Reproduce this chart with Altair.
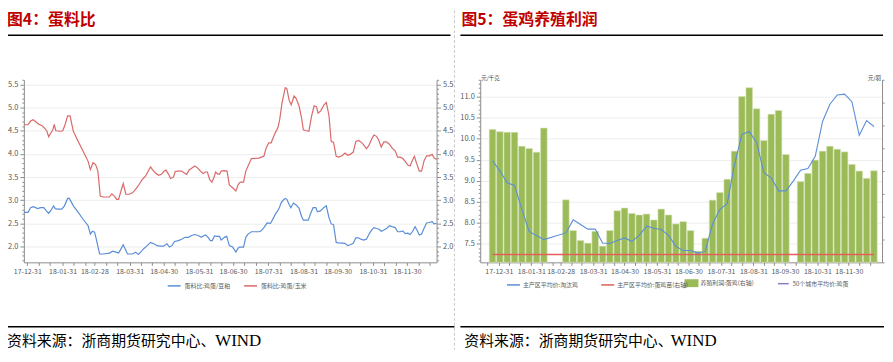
import altair as alt
import pandas as pd

FONT = "Noto Sans CJK SC"
TITLE_L = "图4：蛋料比"
TITLE_R = "图5：蛋鸡养殖利润"
SOURCE_CN = "资料来源：浙商期货研究中心、"
SOURCE_EN = "WIND"
LEG_SOY = "蛋料比:鸡蛋/豆粕"
LEG_CORN = "蛋料比:鸡蛋/玉米"
LEG_HEN = "主产区平均价:淘汰鸡"
LEG_CHICK = "主产区平均价:蛋鸡苗(右轴)"
LEG_PROFIT = "养殖利润:蛋鸡(右轴)"
LEG_EGG50 = "50个城市平均价:鸡蛋"
UNIT_L = "元/千克"
UNIT_R = "元/羽"

# ---------------- left panel: (days after 2017-12-31, ratio) ----------------
soy_points = [
    (-3, 2.74), (0.6, 2.74), (2.9, 2.84), (5.2, 2.86), (7.2, 2.84), (9.2, 2.82), (11.6, 2.84), (14.5, 2.84),
    (16.8, 2.77), (18.8, 2.72), (21.1, 2.79), (23.1, 2.88), (24.6, 2.82), (26.6, 2.81), (30.3, 2.81), (32.7, 2.88),
    (35.5, 3.04), (37, 3.04), (40.5, 2.88), (44.8, 2.74), (49.1, 2.59), (53.5, 2.45), (55.5, 2.27), (57.2, 2.33),
    (59.2, 2.31), (60.7, 2.16), (63.6, 1.84), (66.5, 1.84), (72.3, 1.86), (75.1, 1.90), (78, 1.88), (80.3, 1.86),
    (82.4, 1.95), (84.4, 2.04), (86.1, 1.95), (88.2, 1.84), (92.5, 1.84), (95.4, 1.88), (97.7, 1.83), (99.7, 1.88),
    (102.6, 1.96), (105.5, 2.02), (108.4, 2.09), (111.3, 2.06), (114.2, 2.02), (117.1, 2.01), (119.9, 2.01),
    (122.8, 2.06), (125.1, 1.99), (127.2, 2.02), (129.5, 2.11), (132.9, 2.13), (135.8, 2.16), (138.7, 2.20),
    (141.6, 2.20), (144.5, 2.24), (147.4, 2.26), (150.3, 2.24), (153.2, 2.20), (155.5, 2.24), (156.9, 2.25),
    (159, 2.20), (161, 2.13), (162.7, 2.13), (164.7, 2.23), (166.8, 2.22), (169.1, 2.22), (170.5, 2.14),
    (173.4, 2.20), (175.4, 2.22), (177.7, 2.02), (180.6, 1.99), (183.5, 1.88), (185, 1.95), (186.4, 1.99),
    (190.2, 1.99), (192.2, 2.20), (194.2, 2.27), (197.1, 2.32), (203.8, 2.32), (205.8, 2.34), (208.1, 2.41),
    (211, 2.51), (213.9, 2.50), (216.8, 2.63), (218.2, 2.70), (220.2, 2.77), (221.7, 2.84), (223.4, 2.95),
    (225.4, 3.01), (226.9, 3.04), (228.3, 3.02), (230.3, 2.91), (231.8, 2.84), (234.1, 2.94), (236.4, 2.90),
    (239, 2.83), (241.3, 2.65), (242.8, 2.57), (247.1, 2.57), (249.1, 2.71), (251.4, 2.84), (253.8, 2.84),
    (255.2, 2.75), (257.8, 2.77), (260.7, 2.84), (263, 2.88), (265.3, 2.63), (267.3, 2.49), (269.4, 2.47),
    (271.7, 2.09), (273.7, 2.08), (279.5, 2.07), (281.8, 2.02), (284.1, 2.04), (286.7, 2.07), (289, 2.19),
    (291.3, 2.19), (293.4, 2.16), (295.7, 2.14), (298.3, 2.16), (300.6, 2.27), (302.9, 2.36), (304.9, 2.41),
    (307.2, 2.39), (309.2, 2.38), (311.3, 2.33), (313.6, 2.36), (316.5, 2.40), (318.5, 2.45), (320.8, 2.43),
    (323.7, 2.41), (325.7, 2.32), (328, 2.32), (330.3, 2.34), (332.4, 2.28), (334.7, 2.29), (336.7, 2.26),
    (338.7, 2.32), (341.1, 2.43), (343.1, 2.34), (344.8, 2.25), (346.8, 2.27), (349.1, 2.40), (351.2, 2.51),
    (353.5, 2.52), (356.1, 2.54), (357.8, 2.49), (360, 2.50),
]
corn_points = [
    (-3, 4.63), (0.6, 4.63), (2.9, 4.71), (5.2, 4.74), (7.2, 4.70), (10.1, 4.64), (13, 4.61), (15, 4.56),
    (17.3, 4.49), (18.8, 4.37), (20.2, 4.43), (22.5, 4.52), (23.7, 4.64), (25.1, 4.50), (28.9, 4.49), (31.2, 4.50),
    (33.2, 4.63), (35.5, 4.82), (37.6, 4.82), (40.5, 4.49), (44.8, 4.27), (49.1, 4.06), (53.5, 3.84), (55.5, 3.66),
    (57.8, 3.81), (60.1, 3.77), (62.1, 3.63), (64.2, 3.09), (66.5, 3.07), (72.3, 3.07), (74.3, 3.14), (76.6, 3.09),
    (78.6, 3.02), (80.3, 3.02), (82.4, 3.20), (84.4, 3.36), (86.7, 3.13), (89.6, 3.13), (92.5, 3.16), (95.4, 3.24),
    (98.3, 3.34), (101.2, 3.45), (104, 3.52), (106.4, 3.63), (108.4, 3.72), (110.4, 3.65), (112.7, 3.59),
    (115.6, 3.54), (117.9, 3.56), (120.5, 3.63), (122, 3.65), (124.3, 3.56), (126, 3.47), (128.6, 3.50),
    (130.1, 3.62), (132.4, 3.63), (135.8, 3.63), (138.2, 3.59), (140.2, 3.56), (142.2, 3.65), (144.5, 3.69),
    (147.4, 3.74), (149.7, 3.70), (152.3, 3.63), (154.6, 3.58), (156.6, 3.61), (158.4, 3.61), (160.4, 3.45),
    (162.4, 3.39), (164.2, 3.49), (165.6, 3.61), (167.6, 3.57), (169.1, 3.56), (170.5, 3.63), (173.4, 3.64),
    (175.7, 3.63), (177.7, 3.33), (180.6, 3.27), (183.5, 3.20), (185.5, 3.34), (187.3, 3.39), (190.2, 3.39),
    (192.2, 3.63), (194.2, 3.74), (197.1, 3.90), (203.8, 3.91), (205.8, 3.93), (208.1, 3.95), (210.1, 4.13),
    (212.4, 4.24), (214.5, 4.24), (216.8, 4.38), (218.2, 4.46), (220.5, 4.57), (222, 4.74), (224, 5.09),
    (225.4, 5.26), (226.9, 5.43), (228.3, 5.41), (230.3, 5.16), (232.1, 5.06), (234.7, 5.25), (236.4, 5.20),
    (239, 5.04), (241.3, 4.77), (242.8, 4.52), (245.7, 4.50), (247.7, 4.49), (250, 4.81), (252.3, 5.04),
    (254.3, 5.02), (255.8, 4.88), (258.1, 4.93), (261, 5.06), (263, 5.11), (265.3, 4.84), (267.3, 4.27),
    (269.4, 4.25), (271.7, 3.95), (273.7, 3.93), (276.9, 3.96), (279.5, 4.02), (281.8, 3.97), (284.1, 3.99),
    (286.7, 4.04), (289, 4.27), (291.3, 4.29), (293.4, 4.26), (295.7, 4.20), (298.3, 4.11), (300.6, 4.19),
    (302.9, 4.32), (304.9, 4.41), (307.2, 4.38), (309.2, 4.29), (311.3, 4.15), (313.6, 4.26), (315.9, 4.26),
    (318.5, 4.21), (320.8, 4.13), (323.7, 4.06), (325.7, 3.93), (328, 3.93), (330.3, 3.90), (332.4, 3.84),
    (334.7, 3.76), (336.7, 3.74), (338.7, 3.86), (340.5, 3.95), (342.5, 3.79), (344.8, 3.63), (346.8, 3.63),
    (349.1, 3.86), (351.2, 3.96), (353.5, 3.96), (356.1, 3.99), (357.8, 3.91), (360, 3.88),
]

# ---------------- right panel: weekly ----------------
week_dates = [
    "2017-12-25", "2018-01-01", "2018-01-08", "2018-01-15", "2018-01-22", "2018-01-29", "2018-02-05", "2018-02-12",
    "2018-02-19", "2018-02-26", "2018-03-05", "2018-03-12", "2018-03-19", "2018-03-26", "2018-04-02", "2018-04-09",
    "2018-04-16", "2018-04-23", "2018-04-30", "2018-05-07", "2018-05-14", "2018-05-21", "2018-05-28", "2018-06-04",
    "2018-06-11", "2018-06-18", "2018-06-25", "2018-07-02", "2018-07-09", "2018-07-16", "2018-07-23", "2018-07-30",
    "2018-08-06", "2018-08-13", "2018-08-20", "2018-08-27", "2018-09-03", "2018-09-10", "2018-09-17", "2018-09-24",
    "2018-10-01", "2018-10-08", "2018-10-15", "2018-10-22", "2018-10-29", "2018-11-05", "2018-11-12", "2018-11-19",
    "2018-11-26", "2018-12-03", "2018-12-10", "2018-12-17", "2018-12-24",
]
# None = no data that week
hen_price = [
    9.48, 9.23, 8.95, 8.89, 8.32, 7.79, 7.70, 7.60, None, None, 7.76, 8.07, 7.96, 7.85, 7.85, 7.52,
    7.51, 7.58, 7.64, 7.56, 7.70, 7.92, 7.87, 7.84, 7.70, 7.44, 7.34, 7.34, 7.28, 7.32, 7.97, 8.32,
    8.46, 9.39, 10.10, 10.17, 9.91, 9.19, 9.07, 8.76, 8.76, 8.99, 9.25, 9.29, 9.58, 10.41, 10.82, 11.04,
    11.06, 10.88, 10.08, 10.43, 10.29,
]
profit = [
    22.39, 22.04, 21.94, 21.94, 19.81, 19.46, 18.89, 22.59, None, None, 11.59, 6.87, 5.35, 4.94, 6.76, 4.48,
    6.87, 9.91, 10.33, 9.50, 9.26, 9.41, 8.50, 10.17, 9.26, 7.89, 8.24, 6.87, 3.72, 5.70, 11.54, 12.70,
    14.74, 19.05, 27.42, 28.79, 25.55, 20.68, 24.72, 25.29, 18.54, None, 14.37, 15.65, 17.68, 19.05, 19.81, 19.35,
    18.94, 17.02, 16.00, 14.89, 16.05,
]
chick_dates = ["2017-12-25", "2018-12-24"]
chick_price = [3.2, 3.2]

MONTH_ENDS = ["2017-12-31", "2018-01-31", "2018-02-28", "2018-03-31", "2018-04-30", "2018-05-31",
              "2018-06-30", "2018-07-31", "2018-08-31", "2018-09-30", "2018-10-31", "2018-11-30", "2018-12-31"]

# ---------------- styles ----------------
BLUE = "#5B8ED6"
RED = "#D9696A"
RED2 = "#E45C5C"
GREEN = "#9BBB59"
PURPLE = "#8E7CC3"
TITLE_RED = "#C00000"
AX = "#8C8C8C"
LAB = "#595959"
DASH = "#C8C8C8"

# ---------------- frames ----------------
base = pd.Timestamp("2017-12-31")
soy = pd.DataFrame(soy_points, columns=["day", "value"])
soy["date"] = base + pd.to_timedelta(soy["day"], unit="D")
soy["series"] = LEG_SOY
corn = pd.DataFrame(corn_points, columns=["day", "value"])
corn["date"] = base + pd.to_timedelta(corn["day"], unit="D")
corn["series"] = LEG_CORN

wk = pd.DataFrame({"date": pd.to_datetime(week_dates), "hen": hen_price, "profit": profit})
hen = wk.dropna(subset=["hen"]).rename(columns={"hen": "value"})[["date", "value"]]
hen["series"] = LEG_HEN
bars = wk.dropna(subset=["profit"]).rename(columns={"profit": "value"})[["date", "value"]]
bars["series"] = LEG_PROFIT
chick = pd.DataFrame({"date": pd.to_datetime(chick_dates), "value": chick_price, "series": LEG_CHICK})
egg50 = pd.DataFrame({"date": pd.to_datetime(["2018-06-01"]), "value": [None], "series": [LEG_EGG50]})


def dtime(ts):
    ts = pd.Timestamp(ts)
    return alt.DateTime(year=ts.year, month=ts.month, date=ts.day)


def tick_list(start, end):
    out = []
    for me in MONTH_ENDS:
        m = pd.Timestamp(me)
        for d in (pd.Timestamp(m.year, m.month, 10), pd.Timestamp(m.year, m.month, 20), m):
            if pd.Timestamp(start) < d < pd.Timestamp(end):
                out.append(dtime(d))
    return out


def x_axis(start, end):
    return alt.Axis(values=tick_list(start, end),
                    labelExpr="date(datum.value) >= 28 ? timeFormat(datum.value, '%y-%m-%d') : ''",
                    title=None, grid=False, tickSize=3, tickColor=AX, domainColor=AX,
                    labelColor=LAB, labelFont=FONT, labelFontSize=7, labelFlush=False,
                    labelOverlap=False, labelPadding=2)


MAJOR = "abs(datum.value * 2 - round(datum.value * 2)) < 0.01"


def y_axis(lo, hi, orient, grid):
    vals = [round(lo + 0.1 * i, 1) for i in range(int(round((hi - lo) * 10)) + 1)]
    return alt.Axis(values=vals, orient=orient, title=None,
                    labelExpr=MAJOR + " ? format(datum.value, '.1f') : ''",
                    tickSize={"condition": {"test": MAJOR, "value": 4}, "value": 2},
                    grid=grid, gridColor="#EDEDED",
                    gridOpacity={"condition": {"test": MAJOR, "value": 1}, "value": 0},
                    tickColor=AX, domainColor=AX, labelColor=LAB, labelFont=FONT,
                    labelFontSize=7.5, labelOverlap=False, labelFlush=False, labelPadding=2)


def text_at(txt, x, y, size, color="black", weight="normal", align="left", font=FONT):
    return alt.Chart(pd.DataFrame({"t": [txt]})).mark_text(
        align=align, baseline="middle", font=font, fontSize=size, fontWeight=weight, color=color
    ).encode(x=alt.value(x), y=alt.value(y), text="t:N")


def hline(x1, x2, y, color, width, dash=None):
    kw = dict(color=color, strokeWidth=width)
    if dash:
        kw["strokeDash"] = dash
    return alt.Chart(pd.DataFrame({"a": [0]})).mark_rule(**kw).encode(
        x=alt.value(x1), x2=alt.value(x2), y=alt.value(y))


def vline(x, y1, y2, color, width, dash=None):
    kw = dict(color=color, strokeWidth=width)
    if dash:
        kw["strokeDash"] = dash
    return alt.Chart(pd.DataFrame({"a": [0]})).mark_rule(**kw).encode(
        x=alt.value(x), y=alt.value(y1), y2=alt.value(y2))


# ---------------- left panel ----------------
WL, HL = 416, 184
xL = alt.X("date:T", scale=alt.Scale(domain=[dtime("2017-12-28"), dtime("2018-12-26")]),
           axis=x_axis("2017-12-28", "2018-12-26"))
colL = alt.Color("series:N", scale=alt.Scale(domain=[LEG_SOY, LEG_CORN], range=[BLUE, RED]),
                 legend=alt.Legend(orient="none", legendX=144, legendY=200, direction="horizontal",
                                   title=None, symbolType="stroke", symbolSize=169, symbolStrokeWidth=1.5,
                                   labelFont=FONT, labelFontSize=6, labelColor=LAB, columnPadding=10,
                                   labelOffset=3, padding=0))
soy_line = alt.Chart(soy).mark_line(strokeWidth=1.2).encode(
    x=xL, y=alt.Y("value:Q", scale=alt.Scale(domain=[1.66, 5.6], nice=False, zero=False),
                  axis=y_axis(1.7, 5.6, "left", True)), color=colL)
corn_line = alt.Chart(corn).mark_line(strokeWidth=1.2).encode(
    x=xL, y=alt.Y("value:Q", scale=alt.Scale(domain=[1.66, 5.6], nice=False, zero=False),
                  axis=y_axis(1.7, 5.6, "right", False)), color=colL)

left = alt.layer(
    soy_line, corn_line,
    hline(-18, 434, -75, DASH, 1, [3, 2]),
    vline(-18, -75, 272, DASH, 1, [3, 2]), vline(434, -75, 272, DASH, 1, [3, 2]),
    text_at(TITLE_L, -17, -60, 16, TITLE_RED, "bold"),
    hline(-17, 430, -45, "black", 1.5),
    hline(-18, 434, 249, "black", 1.5),
    text_at(SOURCE_CN, -17, 263, 15),
    text_at(SOURCE_EN, 193, 263, 17, font="Liberation Serif"),
).resolve_scale(y="independent").properties(width=WL, height=HL)

# ---------------- right panel ----------------
WR, HR = 405, 184
xR = alt.X("date:T", scale=alt.Scale(domain=[dtime("2017-12-18"), dtime("2018-12-27")]),
           axis=x_axis("2017-12-18", "2018-12-27"))
yR_left = alt.Y("value:Q", scale=alt.Scale(domain=[7.06, 11.4], nice=False, zero=False),
                axis=y_axis(7.1, 11.4, "left", True))
yR_right = alt.Y("value:Q", scale=alt.Scale(domain=[2, 30], nice=False, zero=False),
                 axis=alt.Axis(orient="right", values=[2 + 3.5 * i for i in range(9)], labels=False,
                               title=None, grid=False, tickSize=2, tickColor=AX, domainColor=AX))
strokeR = alt.Stroke("series:N", scale=alt.Scale(domain=[LEG_HEN, LEG_CHICK], range=[BLUE, RED2]),
                     legend=alt.Legend(orient="none", legendX=26, legendY=199, direction="horizontal",
                                       title=None, symbolType="stroke", symbolSize=169, symbolStrokeWidth=1.5,
                                       labelFont=FONT, labelFontSize=6, labelColor=LAB, columnPadding=20,
                                       labelOffset=2, padding=0))
fillR = alt.Fill("series:N", scale=alt.Scale(domain=[LEG_PROFIT], range=[GREEN]),
                 legend=alt.Legend(orient="none", legendX=206, legendY=198, direction="horizontal",
                                   title=None, symbolType="M-1,-0.57H1V0.57H-1Z", symbolSize=196,
                                   symbolStrokeWidth=0, labelFont=FONT, labelFontSize=6, labelColor=LAB,
                                   labelOffset=2, padding=0))
colR = alt.Color("series:N", scale=alt.Scale(domain=[LEG_EGG50], range=[PURPLE]),
                 legend=alt.Legend(orient="none", legendX=299, legendY=199, direction="horizontal",
                                   title=None, symbolType="stroke", symbolSize=121, symbolStrokeWidth=1.5,
                                   labelFont=FONT, labelFontSize=6, labelColor=LAB, labelOffset=3, padding=0))

bar_layer = alt.Chart(bars).mark_bar(size=6.6, stroke="#D5E3B5", strokeWidth=0.6).encode(
    x=xR, y=yR_right, y2=alt.datum(2), fill=fillR)
chick_line = alt.Chart(chick).mark_line(strokeWidth=1.5).encode(x=xR, y=yR_right, stroke=strokeR)
hen_line = alt.Chart(hen).mark_line(strokeWidth=1.1).encode(x=xR, y=yR_left, stroke=strokeR)
egg_line = alt.Chart(egg50).mark_line(strokeWidth=1.1).encode(x=xR, y=yR_left, color=colR)

right = alt.layer(
    alt.layer(bar_layer, chick_line),
    alt.layer(hen_line, egg_line),
    hline(-20, 406, -75, DASH, 1, [3, 2]),
    text_at(TITLE_R, -19, -60, 16, TITLE_RED, "bold"),
    hline(-20, 406, -45, "black", 1.5),
    hline(-20, 407, 249, "black", 1.5),
    text_at(SOURCE_CN, -16, 263, 15),
    text_at(SOURCE_EN, 192, 263, 17, font="Liberation Serif"),
    text_at(UNIT_L, 1, -2, 5.5, "#404040"),
    text_at(UNIT_R, 404, -2, 5.5, "#404040", align="right"),
).resolve_scale(y="independent").properties(width=WR, height=HR)

chart = alt.hconcat(left, right, spacing=2).resolve_scale(
    color="independent", stroke="independent", fill="independent"
).resolve_legend(color="independent", stroke="independent", fill="independent").properties(
    padding={"left": -4, "top": -5, "right": -1, "bottom": 0}, background="white"
).configure_view(stroke="transparent")

chart.save("out.html", embed_options={"renderer": "svg", "actions": False})
